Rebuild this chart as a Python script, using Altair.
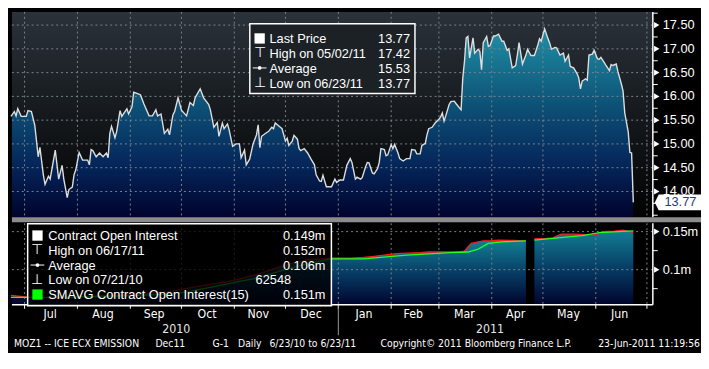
import altair as alt
import pandas as pd

# ---------------- values ----------------
# day offsets counted from 2010-07-01, and the ICE ECX EUA Dec11 price
price_day = [-8, -6, -5, -4, -2, 1, 2, 4, 6, 8,
             9, 11, 12, 14, 15, 18, 20, 22, 23, 25,
             26, 28, 29, 30, 32, 34, 37, 38, 39, 40,
             42, 44, 46, 48, 49, 50, 51, 53, 54, 56,
             57, 60, 61, 63, 64, 67, 68, 70, 73, 75,
             77, 78, 80, 82, 84, 85, 87, 88, 90, 92,
             95, 97, 99, 100, 103, 105, 108, 109, 111, 113,
             114, 116, 117, 119, 120, 122, 124, 126, 127, 129,
             130, 132, 134, 136, 137, 138, 139, 142, 143, 145,
             146, 147, 150, 151, 153, 154, 155, 157, 158, 160,
             161, 162, 164, 166, 168, 170, 171, 173, 174, 175,
             177, 180, 182, 183, 185, 187, 189, 191, 192, 194,
             195, 197, 198, 200, 201, 202, 204, 205, 207, 208,
             209, 211, 212, 213, 215, 216, 217, 219, 220, 222,
             224, 226, 227, 229, 230, 232, 233, 235, 236, 237,
             239, 240, 241, 243, 244, 245, 246, 247, 249, 250,
             252, 253, 255, 256, 257, 258, 259, 260, 261, 263,
             264, 266, 267, 268, 269, 271, 272, 273, 275, 276,
             278, 280, 281, 283, 284, 286, 288, 289, 290, 292,
             294, 295, 297, 299, 301, 302, 303, 305, 307, 308,
             309, 311, 312, 314, 316, 317, 319, 320, 322, 324,
             325, 326, 327, 329, 330, 331, 333, 334, 336, 337,
             338, 340, 341, 343, 344, 345, 347, 348, 350, 351,
             352, 354, 355, 356, 357]
price_val = [15.58, 15.68, 15.59, 15.74, 15.58, 15.58, 15.70, 15.68, 15.39, 14.73,
             14.93, 14.35, 14.15, 14.32, 14.26, 14.87, 14.26, 14.55, 14.26, 13.87,
             14.04, 14.09, 14.35, 14.45, 14.82, 14.66, 14.66, 14.56, 14.88, 14.86,
             14.73, 14.81, 14.73, 14.81, 14.71, 15.22, 15.37, 15.13, 15.26, 15.70,
             15.58, 15.74, 15.63, 15.78, 16.09, 16.05, 16.03, 15.84, 15.59, 15.59,
             15.72, 15.59, 15.63, 15.22, 15.31, 15.19, 15.61, 15.68, 15.97, 15.71,
             15.59, 15.87, 15.81, 15.97, 16.16, 15.97, 15.83, 15.71, 15.35, 15.45,
             15.16, 15.44, 15.32, 15.42, 15.29, 14.95, 15.00, 15.00, 14.71, 14.87,
             14.56, 14.68, 15.00, 15.19, 15.40, 14.92, 15.16, 15.24, 15.26, 15.35,
             15.32, 15.44, 15.35, 15.32, 15.06, 15.12, 14.97, 15.06, 15.18, 15.10,
             14.90, 14.86, 14.90, 14.81, 14.68, 14.56, 14.35, 14.22, 14.21, 14.34,
             14.10, 14.10, 14.26, 14.19, 14.24, 14.24, 14.55, 14.69, 14.61, 14.26,
             14.30, 14.26, 14.29, 14.52, 14.61, 14.60, 14.39, 14.37, 14.48, 14.61,
             14.90, 14.88, 14.75, 14.77, 14.99, 14.90, 14.99, 14.81, 14.69, 14.64,
             14.69, 14.69, 14.88, 14.87, 14.79, 14.79, 14.97, 15.01, 15.19, 15.32,
             15.35, 15.40, 15.45, 15.52, 15.57, 15.65, 15.48, 15.59, 15.83, 15.89,
             15.90, 15.85, 15.76, 15.72, 16.39, 16.74, 17.23, 17.26, 16.81, 17.23,
             16.91, 16.99, 16.95, 16.56, 17.13, 17.26, 17.05, 17.07, 17.27, 17.27,
             17.31, 17.16, 17.16, 16.97, 17.00, 16.60, 16.65, 16.87, 17.13, 16.68,
             16.87, 16.99, 16.86, 16.86, 17.08, 17.21, 17.16, 17.42, 17.21, 17.12,
             16.99, 17.03, 17.02, 16.87, 16.91, 16.74, 16.87, 16.63, 16.60, 16.48,
             16.39, 16.16, 16.32, 16.37, 16.34, 16.87, 16.89, 16.97, 16.79, 16.78,
             16.82, 16.71, 16.65, 16.54, 16.67, 16.65, 16.68, 16.52, 16.26, 16.11,
             15.65, 15.26, 14.82, 14.81, 13.77]

# contract open interest (millions); segment 1 = before / 2 = after the Easter gap
oi_day = [-8, 2, 20, 27, 50, 67, 83, 96, 109, 118,
          126, 137, 142, 147, 153, 160, 166, 173, 179, 191,
          199, 205, 212, 218, 224, 232, 237, 250, 256, 258,
          260, 262, 266, 269, 274, 278, 286, 294,
          299, 306, 310, 313, 315, 322, 327, 331, 335, 339,
          346, 351, 353, 355, 357]
oi_val = [0.066, 0.064, 0.0625, 0.064, 0.066, 0.068, 0.0704, 0.0756, 0.081, 0.084,
          0.0878, 0.094, 0.098, 0.102, 0.106, 0.110, 0.113, 0.1143, 0.115, 0.115,
          0.116, 0.1175, 0.1195, 0.121, 0.1216, 0.1225, 0.1235, 0.1232, 0.1238, 0.1244,
          0.130, 0.1345, 0.1365, 0.1378, 0.138, 0.1387, 0.1385, 0.1378,
          0.1406, 0.141, 0.1418, 0.145, 0.1467, 0.1467, 0.1465, 0.1455, 0.146, 0.150,
          0.1505, 0.152, 0.151, 0.150, 0.149]
oi_seg = [1] * 38 + [2] * 15

# 15-day simple moving average of open interest (millions)
sma_day = [-8, 20, 50, 83, 96, 109, 126, 134, 153, 166,
           175, 179, 199, 224, 250, 260, 266, 272, 280, 294,
           299, 327, 337, 357]
sma_val = [0.0634, 0.0634, 0.065, 0.0674, 0.071, 0.0768, 0.0845, 0.0878, 0.100, 0.108,
           0.112, 0.1143, 0.1143, 0.1191, 0.1223, 0.1232, 0.127, 0.1345, 0.1366, 0.1378,
           0.1387, 0.1448, 0.1488, 0.151]
sma_seg = [1] * 20 + [2] * 4

month_starts = ["2010-07-01", "2010-08-01", "2010-09-01", "2010-10-01", "2010-11-01",
                "2010-12-01", "2011-01-01", "2011-02-01", "2011-03-01", "2011-04-01",
                "2011-05-01", "2011-06-01", "2011-07-01"]
month_labels = ["Jul", "Aug", "Sep", "Oct", "Nov", "Dec",
                "Jan", "Feb", "Mar", "Apr", "May", "Jun"]
month_label_dates = ["2010-07-16", "2010-08-16", "2010-09-15", "2010-10-16", "2010-11-15",
                     "2010-12-16", "2011-01-16", "2011-02-14", "2011-03-16", "2011-04-15",
                     "2011-05-16", "2011-06-15"]
year_labels = ["2010", "2011"]
year_label_dates = ["2010-09-28", "2011-03-31"]
year_break = ["2011-01-01"]

price_domain = [13.455, 17.777]
oi_domain = [0.0537, 0.161]
price_ticks = [14.0, 14.5, 15.0, 15.5, 16.0, 16.5, 17.0, 17.5]
price_minor = [13.5, 13.75, 14.25, 14.75, 15.25, 15.75, 16.25, 16.75, 17.25, 17.75]
oi_ticks = [0.10, 0.15]
oi_tick_labels = ["0.1m", "0.15m"]
oi_minor = [0.075, 0.125]
last_price = [13.77]

top_legend_labels = ["Last Price", "High on 05/02/11", "Average", "Low on 06/23/11"]
top_legend_values = ["13.77", "17.42", "15.53", "13.77"]
bottom_legend_labels = ["Contract Open Interest", "High on 06/17/11", "Average",
                        "Low on 07/21/10", "SMAVG Contract Open Interest(15)"]
bottom_legend_values = ["0.149m", "0.152m", "0.106m", "62548", "0.151m"]

footer_parts = ["MOZ1 -- ICE ECX EMISSION", "Dec11", "G-1", "Daily",
                "6/23/10 to 6/23/11", "Copyright\u00a9 2011 Bloomberg Finance L.P.",
                "23-Jun-2011 11:19:56"]

# ---------------- styling ----------------
W, H, HB = 652, 209, 83
FONT = "Liberation Sans"
NARROW = "DejaVu Sans Condensed, Liberation Sans Narrow, Liberation Sans"
GRID = "#7d848c"
DASH = [2, 3]


def to_dates(days):
    base = pd.Timestamp("2010-07-01")
    return [base + pd.Timedelta(days=d) for d in days]


price_df = pd.DataFrame({"date": to_dates(price_day), "price": price_val})
oi_df = pd.DataFrame({"date": to_dates(oi_day), "oi": oi_val, "seg": oi_seg})
sma_df = pd.DataFrame({"date": to_dates(sma_day), "sma": sma_val, "seg": sma_seg})
month_df = pd.DataFrame({"date": pd.to_datetime(month_starts)})
one = pd.DataFrame({"k": [0]})

xs = alt.Scale(domain=[alt.DateTime(year=2010, month=6, date=23, hours=14),
                       alt.DateTime(year=2011, month=7, date=4, hours=11)])
xenc = alt.X("date:T", scale=xs, axis=None, title=None)

ps = alt.Scale(domain=price_domain, nice=False, zero=False)
os_ = alt.Scale(domain=oi_domain, nice=False, zero=False)


def grad(stops):
    return alt.Gradient(gradient="linear", x1=0, x2=0, y1=0, y2=1,
                        stops=[alt.GradientStop(color=c, offset=o) for o, c in stops])


BG_GRAD = grad([(0, "#2b323a"), (0.5, "#15191d"), (1, "#020202")])
AREA_TOP = grad([(0, "#2090a6"), (0.4, "#0d5277"), (0.72, "#05265a"), (1, "#00032d")])
AREA_BOT = grad([(0, "#127f94"), (0.5, "#073d66"), (1, "#00042c")])

TAG_PATH = "M-1,0L-0.83,-0.34L1,-0.34L1,0.34L-0.83,0.34Z"

# ---------------- top panel: price ----------------
bg = alt.Chart(one).mark_rect(fill=BG_GRAD).encode(
    x=alt.value(0), x2=alt.value(W), y=alt.value(0), y2=alt.value(H))
area_top = alt.Chart(price_df).transform_calculate(base=str(price_domain[0])).mark_area(
    fill=AREA_TOP, clip=True).encode(
    x=xenc, y=alt.Y("price:Q", scale=ps, axis=None), y2="base:Q")
gh_top = alt.Chart(pd.DataFrame({"v": price_ticks})).mark_rule(
    color=GRID, strokeDash=DASH, strokeWidth=1).encode(y=alt.Y("v:Q", scale=ps, axis=None))
gv_top = alt.Chart(month_df).mark_rule(color=GRID, strokeDash=DASH, strokeWidth=1).encode(x=xenc)
line_top = alt.Chart(price_df).mark_line(color="#dedede", strokeWidth=1.4).encode(
    x=xenc, y=alt.Y("price:Q", scale=ps, axis=None))
axis_top = alt.Chart(one).mark_rule(color="white", strokeWidth=1.5).encode(
    x=alt.value(W), y=alt.value(0), y2=alt.value(H))
minor_top = alt.Chart(pd.DataFrame({"v": price_minor})).mark_rule(color="white").encode(
    x=alt.value(W), x2=alt.value(W + 5), y=alt.Y("v:Q", scale=ps, axis=None))
ticks_top = alt.Chart(pd.DataFrame({"v": price_ticks, "t": [f"{v:.2f}" for v in price_ticks]}))
tri_top = ticks_top.mark_point(
    shape="triangle-right", filled=True, color="white", size=40, opacity=1).encode(
    x=alt.value(W + 4), y=alt.Y("v:Q", scale=ps, axis=None))
lab_top = ticks_top.mark_text(align="left", baseline="middle", color="white", font=FONT,
                              fontSize=13).encode(
    x=alt.value(W + 10), y=alt.Y("v:Q", scale=ps, axis=None), text="t:N")
tag_base = alt.Chart(pd.DataFrame({"v": last_price, "t": [f"{v:.2f}" for v in last_price]}))
tag_shape = tag_base.mark_point(shape=TAG_PATH, filled=True, color="white", size=2209,
                                opacity=1, strokeWidth=0).encode(
    x=alt.value(W + 25.5), y=alt.Y("v:Q", scale=ps, axis=None))
tag_text = tag_base.mark_text(color="#223d72", fontSize=13, font=FONT, align="center",
                              baseline="middle").encode(
    x=alt.value(W + 28), y=alt.Y("v:Q", scale=ps, axis=None), text="t:N")

lt_box = alt.Chart(one).mark_rect(fill="#1c2126", stroke="white", strokeWidth=1.5).encode(
    x=alt.value(242), x2=alt.value(410), y=alt.value(12), y2=alt.value(83))
lt_labels = alt.Chart(one).mark_text(align="left", baseline="alphabetic", lineHeight=15,
                                     fontSize=13, font=FONT, color="white").encode(
    x=alt.value(262), y=alt.value(32), text=alt.value(top_legend_labels))
lt_values = alt.Chart(one).mark_text(align="right", baseline="alphabetic", lineHeight=15,
                                     fontSize=13, font=FONT, color="white").encode(
    x=alt.value(405), y=alt.value(32), text=alt.value(top_legend_values))
lt_sq = alt.Chart(one).mark_point(shape="square", filled=True, color="white", size=110,
                                  opacity=1).encode(x=alt.value(252), y=alt.value(27))
lt_hi = alt.Chart(one).mark_text(fontSize=14, color="white", baseline="middle").encode(
    x=alt.value(252), y=alt.value(42), text=alt.value("\u22a4"))
lt_avg_l = alt.Chart(one).mark_rule(color="white").encode(
    x=alt.value(245), x2=alt.value(259), y=alt.value(57))
lt_avg_p = alt.Chart(one).mark_point(shape="circle", filled=True, color="white", size=14,
                                     opacity=1).encode(x=alt.value(252), y=alt.value(57))
lt_lo = alt.Chart(one).mark_text(fontSize=14, color="white", baseline="middle").encode(
    x=alt.value(252), y=alt.value(72), text=alt.value("\u22a5"))

sep = alt.Chart(one).mark_rect(color="#8c8c8c").encode(
    x=alt.value(0), x2=alt.value(W + 49), y=alt.value(H), y2=alt.value(H + 5))

top = alt.layer(bg, area_top, gh_top, gv_top, line_top, axis_top, minor_top, tri_top, lab_top,
                lt_box, lt_labels, lt_values, lt_sq, lt_hi, lt_avg_l, lt_avg_p, lt_lo,
                tag_shape, tag_text, sep).properties(width=W, height=H)

# ---------------- bottom panel: open interest ----------------
area_b = alt.Chart(oi_df).transform_calculate(base=str(oi_domain[0])).mark_area(
    fill=AREA_BOT, clip=True).encode(
    x=xenc, y=alt.Y("oi:Q", scale=os_, axis=None, stack=None), y2="base:Q",
    detail="seg:N")
gh_b = alt.Chart(pd.DataFrame({"v": oi_ticks})).mark_rule(
    color=GRID, strokeDash=DASH, strokeWidth=1).encode(y=alt.Y("v:Q", scale=os_, axis=None))
gv_b = alt.Chart(month_df).mark_rule(color=GRID, strokeDash=DASH, strokeWidth=1).encode(x=xenc)
red_b = alt.Chart(oi_df).mark_line(color="#ff1a1a", strokeWidth=1.3).encode(
    x=xenc, y=alt.Y("oi:Q", scale=os_, axis=None), detail="seg:N")
green_b = alt.Chart(sma_df).mark_line(color="#22ff22", strokeWidth=1.3).encode(
    x=xenc, y=alt.Y("sma:Q", scale=os_, axis=None), detail="seg:N")
axis_b = alt.Chart(one).mark_rule(color="white", strokeWidth=1.5).encode(
    x=alt.value(W), y=alt.value(0), y2=alt.value(HB))
minor_b = alt.Chart(pd.DataFrame({"v": oi_minor})).mark_rule(color="white").encode(
    x=alt.value(W), x2=alt.value(W + 5), y=alt.Y("v:Q", scale=os_, axis=None))
ticks_b = alt.Chart(pd.DataFrame({"v": oi_ticks, "t": oi_tick_labels}))
tri_b = ticks_b.mark_point(
    shape="triangle-right", filled=True, color="white", size=40, opacity=1).encode(
    x=alt.value(W + 4), y=alt.Y("v:Q", scale=os_, axis=None))
lab_b = ticks_b.mark_text(align="left", baseline="middle", color="white", font=FONT,
                          fontSize=13).encode(
    x=alt.value(W + 10), y=alt.Y("v:Q", scale=os_, axis=None), text="t:N")

# bottom time axis
xline = alt.Chart(one).mark_rule(color="white", strokeWidth=1.5).encode(
    x=alt.value(0), x2=alt.value(W), y=alt.value(HB))
xticks = alt.Chart(month_df).mark_rule(color="white", strokeWidth=1).encode(
    x=xenc, y=alt.value(HB), y2=alt.value(HB + 4))
xlabels = alt.Chart(pd.DataFrame({"date": pd.to_datetime(month_label_dates),
                                  "t": month_labels})).mark_text(
    color="white", font=NARROW, fontSize=12.5, baseline="middle", align="center").encode(
    x=xenc, y=alt.value(HB + 9.5), text="t:N")

lb_box = alt.Chart(one).mark_rect(fill="black", fillOpacity=0.78, stroke="white",
                                  strokeWidth=1.5).encode(
    x=alt.value(16), x2=alt.value(325), y=alt.value(0.5), y2=alt.value(HB + 1))
lb_labels = alt.Chart(one).mark_text(align="left", baseline="alphabetic", lineHeight=15,
                                     fontSize=13, font=FONT, color="white").encode(
    x=alt.value(37), y=alt.value(17.2), text=alt.value(bottom_legend_labels))
value_right = [319, 319, 319, 284, 319]
lb_values = [
    alt.Chart(one).mark_text(align="right", baseline="alphabetic", fontSize=13,
                             font=FONT, color="white").encode(
        x=alt.value(xr), y=alt.value(17.2 + 15 * i), text=alt.value(t))
    for i, (t, xr) in enumerate(zip(bottom_legend_values, value_right))
]
lb_sq = alt.Chart(one).mark_point(shape="square", filled=True, color="white", size=110,
                                  opacity=1).encode(x=alt.value(26), y=alt.value(12.5))
lb_hi = alt.Chart(one).mark_text(fontSize=14, color="white", baseline="middle").encode(
    x=alt.value(26), y=alt.value(27.5), text=alt.value("\u22a4"))
lb_avg_l = alt.Chart(one).mark_rule(color="white").encode(
    x=alt.value(19), x2=alt.value(33), y=alt.value(42.5))
lb_avg_p = alt.Chart(one).mark_point(shape="circle", filled=True, color="white", size=14,
                                     opacity=1).encode(x=alt.value(26), y=alt.value(42.5))
lb_lo = alt.Chart(one).mark_text(fontSize=14, color="white", baseline="middle").encode(
    x=alt.value(26), y=alt.value(57.5), text=alt.value("\u22a5"))
lb_gsq = alt.Chart(one).mark_point(shape="square", filled=True, color="#00ff00", size=110,
                                   opacity=1).encode(x=alt.value(26), y=alt.value(72.5))

year_sep = alt.Chart(pd.DataFrame({"date": pd.to_datetime(year_break)})).mark_rule(
    color="#9a9a9a").encode(x=xenc, y=alt.value(HB + 1), y2=alt.value(HB + 31))
year_txt = alt.Chart(pd.DataFrame({"date": pd.to_datetime(year_label_dates),
                                   "t": year_labels})).mark_text(
    color="#e8e8e8", font=NARROW, fontSize=12.5, baseline="middle", align="center").encode(
    x=xenc, y=alt.value(HB + 25), text="t:N")

footer_x = [2, 146, 204, 230, 262, 375, 700]
footer_align = ["left", "left", "left", "left", "left", "left", "right"]
footer_layers = [
    alt.Chart(one).mark_text(color="white", font=NARROW, fontSize=10.5, baseline="middle",
                             align=a).encode(x=alt.value(xp), y=alt.value(HB + 40),
                                             text=alt.value(t))
    for t, xp, a in zip(footer_parts, footer_x, footer_align)
]

bottom = alt.layer(area_b, gh_b, gv_b, red_b, green_b, axis_b, minor_b, tri_b, lab_b,
                   xline, xticks, xlabels,
                   lb_box, lb_labels, *lb_values, lb_sq, lb_hi, lb_avg_l, lb_avg_p,
                   lb_lo, lb_gsq, year_sep, year_txt, *footer_layers).properties(width=W, height=HB)

chart = alt.vconcat(top, bottom, spacing=0).properties(
    background="#000000", padding=0
).configure_view(stroke=None)

chart.save("out.html", embed_options={"renderer": "svg", "actions": False})
